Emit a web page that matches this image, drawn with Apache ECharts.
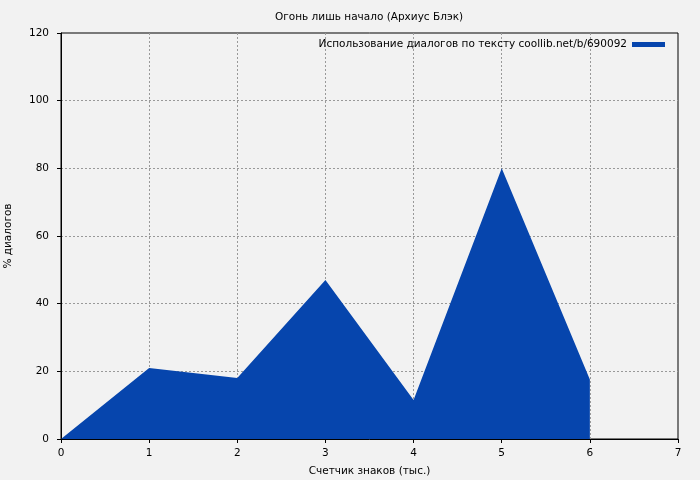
<!DOCTYPE html>
<html><head><meta charset="utf-8">
<script src="https://cdn.jsdelivr.net/npm/echarts@6/dist/echarts.min.js"></script>
<style>html,body{margin:0;padding:0;background:#f2f2f2}#c{width:700px;height:480px}</style>
</head><body><div id="c"></div>
<script>
const xValues = [0, 1, 2, 3, 4, 5, 6];
const dialogPct = [0, 21, 18, 47, 11.5, 80, 17.6];
const seriesName = 'Использование диалогов по тексту coollib.net/b/690092';
const titleText = 'Огонь лишь начало (Архиус Блэк)';
const xName = 'Счетчик знаков (тыс.)';
const yName = '% диалогов';

const font = 'DejaVu Sans';
const fs = 10.5;
const chart = echarts.init(document.getElementById('c'));
chart.setOption({
  backgroundColor: '#f2f2f2',
  animation: false,
  title: { text: titleText, left: 270, top: 7, textStyle: { fontFamily: font, fontSize: fs, fontWeight: 'normal', color: '#000' } },
  legend: { right: 30, top: 34, itemWidth: 33, itemHeight: 5, align: 'right', itemGap: 7,
    textStyle: { fontFamily: font, fontSize: fs, color: '#000' },
    data: [{ name: seriesName, icon: 'rect', itemStyle: { color: '#0645ad' } }] },
  grid: { left: 61, right: 22, top: 33, bottom: 41, show: true, borderColor: '#000', borderWidth: 1,
    backgroundColor: 'transparent', outerBoundsMode: 'none', containLabel: false },
  xAxis: { type: 'value', min: 0, max: 7, interval: 1, name: xName, nameLocation: 'middle', nameGap: 27,
    nameTextStyle: { fontFamily: font, fontSize: fs, color: '#000' },
    axisLine: { lineStyle: { color: '#000' } }, axisTick: { inside: false, length: 4, lineStyle: { color: '#000' } },
    axisLabel: { fontFamily: font, fontSize: fs, color: '#000', margin: 9 },
    splitLine: { show: true, showMinLine: false, showMaxLine: false, lineStyle: { color: '#999', type: [2, 2] } } },
  yAxis: { type: 'value', min: 0, max: 120, interval: 20, name: yName, nameLocation: 'middle', nameGap: 47,
    nameTextStyle: { fontFamily: font, fontSize: fs, color: '#000' },
    axisLine: { show: true, lineStyle: { color: '#000' } }, axisTick: { show: true, length: 4, lineStyle: { color: '#000' } },
    axisLabel: { fontFamily: font, fontSize: fs, color: '#000', margin: 12 },
    splitLine: { show: true, showMinLine: false, showMaxLine: false, lineStyle: { color: '#999', type: [2, 2] } } },
  series: [{ name: seriesName, type: 'line', data: xValues.map((x, i) => [x, dialogPct[i]]),
    showSymbol: false, lineStyle: { width: 0 }, itemStyle: { color: '#0645ad' },
    areaStyle: { color: '#0645ad', opacity: 1 } }]
});
</script></body></html>
